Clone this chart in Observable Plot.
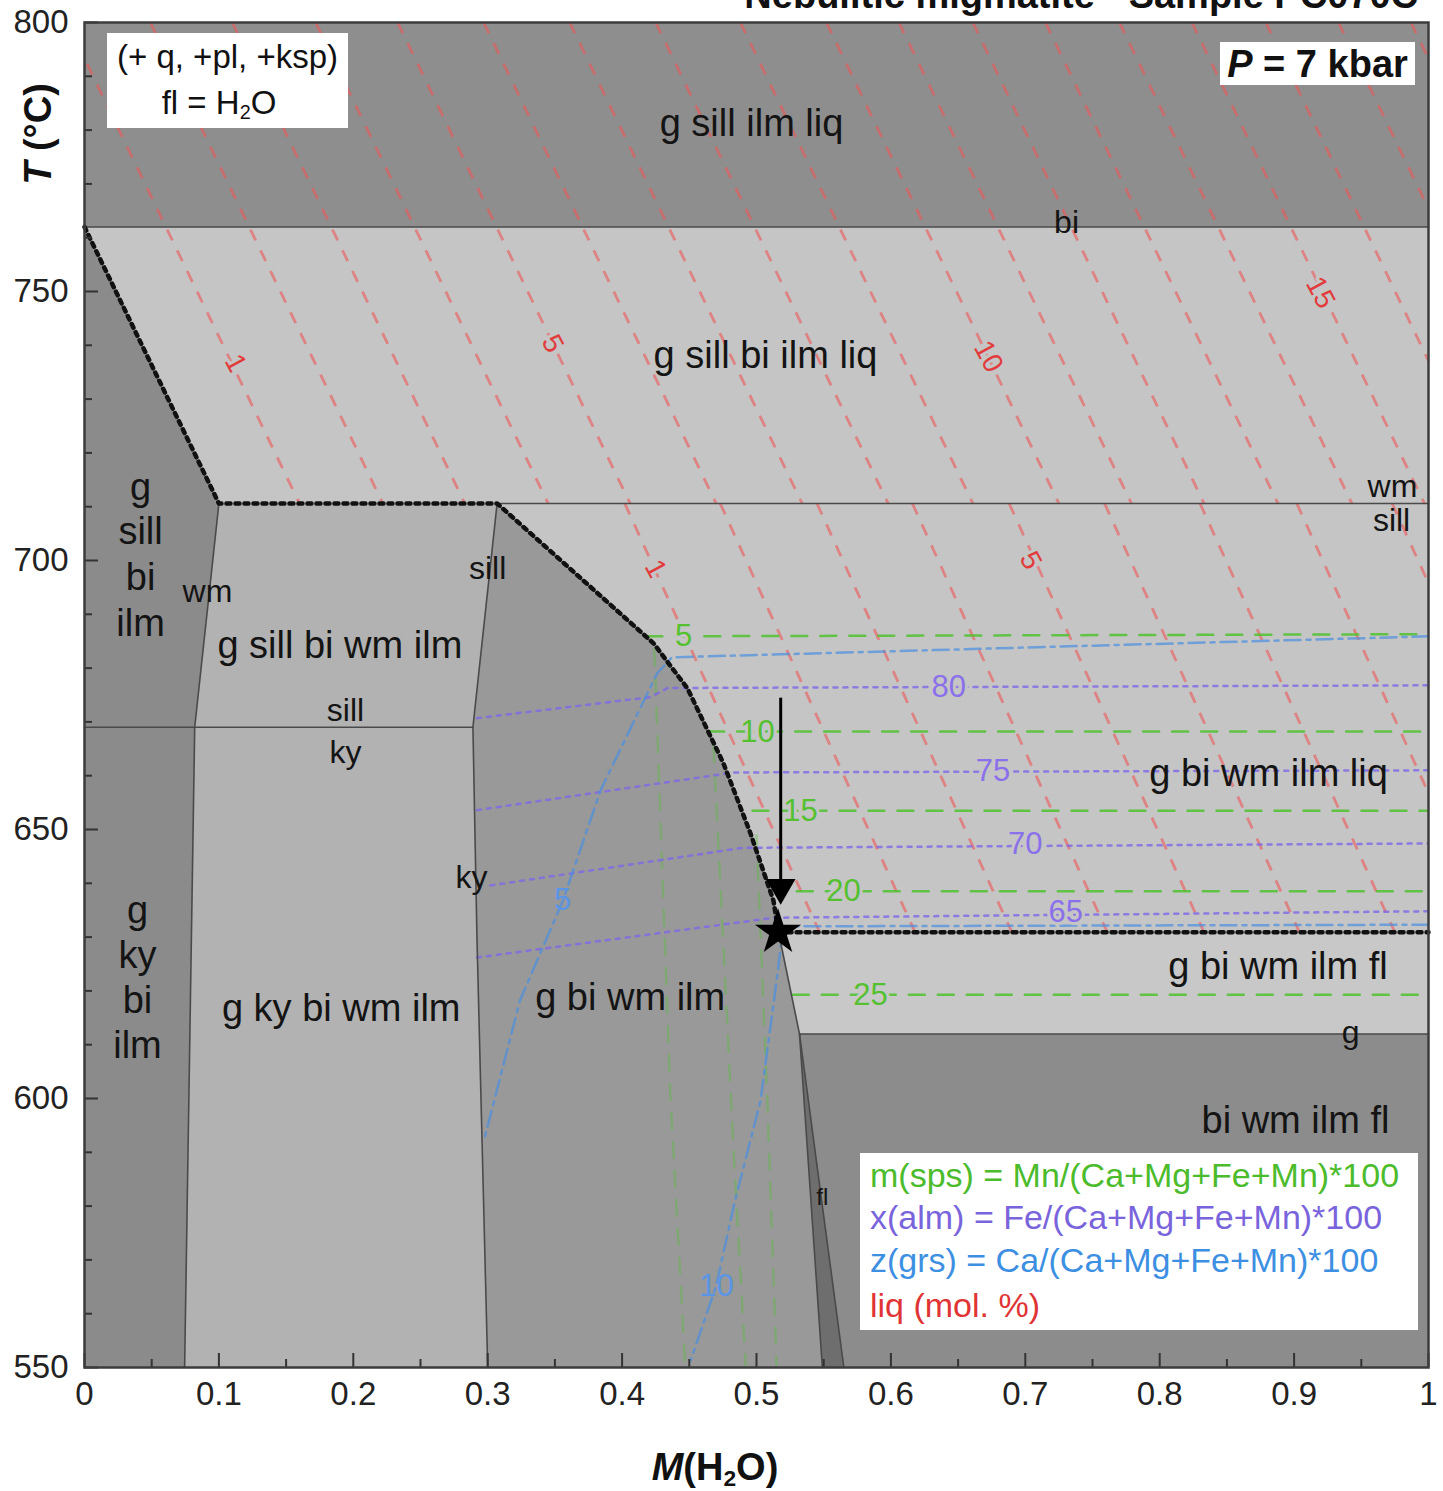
<!DOCTYPE html>
<html><head><meta charset="utf-8">
<script src="https://cdn.jsdelivr.net/npm/d3@7"></script>
<script src="https://cdn.jsdelivr.net/npm/@observablehq/plot@0.6"></script>
<style>
body{margin:0;background:#fff;font-family:"Liberation Sans",Arial,sans-serif;}
#wrap{position:relative;width:1443px;height:1491px;overflow:hidden;}
.ov{position:absolute;white-space:nowrap;color:#111;line-height:1;}
.box{position:absolute;background:#fff;}
sub{font-size:60%;vertical-align:-0.25em;line-height:0;}
</style></head><body><div id="wrap"></div>
<script>
// ---- axes ----
const xMajor = [0,0.1,0.2,0.3,0.4,0.5,0.6,0.7,0.8,0.9,1];
const xMinor = [0.05,0.15,0.25,0.35,0.45,0.55,0.65,0.75,0.85,0.95];
const yMajor = [550,600,650,700,750,800];
const yMinor = [560,570,580,590,610,620,630,640,660,670,680,690,710,720,730,740,760,770,780,790];

// ---- phase fields (M(H2O), T) ----
const regionNames = ["g sill ilm liq","g sill bi ilm liq / g bi wm ilm liq","g sill|ky bi ilm","g sill|ky bi wm ilm","g bi wm ilm","g bi wm ilm fl","fl wedge","bi wm ilm fl"];
const regionFills = ["#8e8e8e","#c5c5c5","#8b8b8b","#b2b2b2","#999999","#c8c8c8","#6e6e6e","#8c8c8c"];
const solidusRight = [[0.307,710.6],[0.4234,684.6],[0.4487,676.2],[0.4754,662.3],[0.4955,649.3],[0.5126,636.8],[0.5164,630.9]];
const regionPolygons = [
  [[0,800],[1,800],[1,762],[0,762]],
  [[0,762],[1,762],[1,630.9],[0.5164,630.9],[0.5126,636.8],[0.4955,649.3],[0.4754,662.3],[0.4487,676.2],[0.4234,684.6],[0.307,710.6],[0.1,710.6]],
  [[0,762],[0.1,710.6],[0.082,669],[0.0745,550],[0,550]],
  [[0.1,710.6],[0.307,710.6],[0.289,669],[0.292,630],[0.3,550],[0.0745,550],[0.082,669]],
  [[0.307,710.6],[0.4234,684.6],[0.4487,676.2],[0.4754,662.3],[0.4955,649.3],[0.5126,636.8],[0.5164,630.9],[0.532,612],[0.549,550],[0.3,550],[0.292,630],[0.289,669]],
  [[0.5164,630.9],[1,630.9],[1,612],[0.532,612]],
  [[0.532,612],[0.565,550],[0.549,550]],
  [[0.532,612],[1,612],[1,550],[0.565,550]]
];
const solidBoundaries = [
  [[0,762],[1,762]],
  [[0.307,710.6],[1,710.6]],
  [[0,669],[0.289,669]],
  [[0.1,710.6],[0.082,669],[0.0745,550]],
  [[0.307,710.6],[0.289,669],[0.292,630],[0.3,550]],
  [[0.5164,630.9],[0.532,612],[0.549,550]],
  [[0.532,612],[0.565,550]],
  [[0.532,612],[1,612]]
];
const dottedBoundaries = [
  [[0,762],[0.1,710.6],[0.307,710.6],...solidusRight],
  [[0.5164,630.9],[1,630.9]]
];

// ---- liq (mol.%) isopleths ----
const liqUpperValues = [1,2,3,4,5,6,7,8,9,10,11,12,13,14,15,16,17,18];
const liqUpperM800 = [-0.013,0.049,0.110,0.172,0.233,0.297,0.361,0.425,0.488,0.552,0.606,0.661,0.715,0.770,0.824,0.879,0.933,0.987];
const liqUpperM711 = [0.160,0.222,0.283,0.345,0.406,0.470,0.534,0.598,0.661,0.725,0.779,0.833,0.888,0.943,0.997,1.051,1.106,1.160];
const liqLowerValues = [1,2,3,4,5,6,7,8,9];
const liqLowerM711 = [0.402,0.473,0.545,0.616,0.688,0.759,0.830,0.902,0.973];
const liqLowerM631 = [0.547,0.618,0.690,0.761,0.833,0.904,0.975,1.047,1.118];
const liqLabelText = ["1","5","10","15","1","5"];
const liqLabelM = [0.1124,0.3482,0.6726,0.9196,0.4249,0.7039];
const liqLabelT = [736.7,740.3,737.9,749.8,698.5,700.0];

// ---- m(sps) isopleths ----
const spsLabelText = ["5","10","15","20","25"];
const spsLines = [
  [[0.418,685.9],[1,686.3]],
  [[0.464,668.2],[1,668.2]],
  [[0.497,653.5],[1,653.5]],
  [[0.530,638.5],[1,638.5]],
  [[0.527,619.3],[1,619.3]],
  [[0.424,683.5],[0.436,600],[0.447,550]],
  [[0.468,665.5],[0.483,590],[0.492,550]],
  [[0.500,649],[0.508,600],[0.515,550]]
];
const spsLabelM = [0.4457,0.5007,0.5327,0.5647,0.5848];
const spsLabelT = [685.9,668.2,653.5,638.5,619.3];

// ---- x(alm) isopleths ----
const almLabelText = ["80","75","70","65"];
const almLines = [
  [[0.292,670.7],[0.421,674.6],[0.434,676.3],[1,676.8]],
  [[0.292,653.6],[0.483,660.6],[1,661.0]],
  [[0.302,639.6],[0.490,646.6],[1,647.4]],
  [[0.292,626.2],[0.513,633.6],[1,634.8]]
];
const almLabelM = [0.643,0.676,0.700,0.730];
const almLabelT = [676.5,660.8,647.3,634.6];

// ---- z(grs) isopleths ----
const grsLabelText = ["5","10"];
const grsLines = [
  [[1,685.9],[0.437,682.0],[0.426,679.0],[0.384,657.3],[0.356,636.8],[0.324,618.2],[0.297,592]],
  [[1,632.3],[0.52,632.0],[0.514,620.1],[0.503,599.6],[0.484,581.0],[0.470,565.2],[0.451,551.3]]
];
const grsLabelM = [0.3557,0.4702];
const grsLabelT = [636.8,565.2];

// ---- field labels ----
const fieldText = ["g sill ilm liq","g sill bi ilm liq","g bi wm ilm liq","g bi wm ilm fl","bi wm ilm fl","g bi wm ilm","g ky bi wm ilm","g sill bi wm ilm",
  "g","sill","bi","ilm","g","ky","bi","ilm"];
const fieldM = [0.4963,0.5067,0.881,0.888,0.901,0.406,0.191,0.190, 0.0417,0.0417,0.0417,0.0417,0.0394,0.0394,0.0394,0.0394];
const fieldT = [781.2,738.1,660.4,624.5,595.9,618.8,616.7,684.2, 713.6,705.4,696.8,688.3,634.9,626.6,618.2,609.7];
const lineText = ["bi","wm","sill","wm","sill","sill","ky","ky","g"];
const lineM = [0.7307,0.9732,0.9725,0.0915,0.2999,0.1942,0.1942,0.288,0.942];
const lineT = [762.8,713.8,707.4,694.2,698.5,672.1,664.3,641.1,612.3];

// ---- path and sample ----
const arrowM = 0.518, arrowT1 = 674.5, arrowT2 = 640.5, arrowHeadT = 639.2;
const starM = 0.516, starT = 630.9;

const pts = p => p.map(([m,t]) => ({m,t}));
const recs = (a) => a.map((d,i)=>i);

const red = "#ef5656", green = "#4fc22e", purple = "#8066e6", blue = "#4a8fe0";
const marks = [];
regionPolygons.forEach((p,i) => marks.push(Plot.line(pts(p), {x:"m", y:"t", fill: regionFills[i], stroke: "none"})));

// liq isopleths
marks.push(Plot.link(recs(liqUpperValues), {x1: i=>liqUpperM800[i], y1: ()=>800, x2: i=>liqUpperM711[i], y2: ()=>710.6,
  stroke: red, strokeOpacity: 0.6, strokeWidth: 2.8, strokeDasharray: "12,11", clip: true}));
marks.push(Plot.link(recs(liqLowerValues), {x1: i=>liqLowerM711[i], y1: ()=>710.6, x2: i=>liqLowerM631[i], y2: ()=>630.9,
  stroke: red, strokeOpacity: 0.6, strokeWidth: 2.8, strokeDasharray: "12,11", clip: true}));
// sps
spsLines.forEach((l,i) => marks.push(Plot.line(pts(l), {x:"m", y:"t", stroke: green, strokeWidth: 2.5,
  strokeOpacity: i < 5 ? 0.85 : 0.35, strokeDasharray: "16,13", clip: true})));
// alm
almLines.forEach(l => marks.push(Plot.line(pts(l), {x:"m", y:"t", stroke: purple, strokeWidth: 2.5, strokeOpacity: 0.8, strokeDasharray: "4,6", clip: true})));
// grs
grsLines.forEach(l => marks.push(Plot.line(pts(l), {x:"m", y:"t", stroke: blue, strokeWidth: 2.5, strokeOpacity: 0.7, strokeDasharray: "16,6,4,6", clip: true})));

// boundaries
solidBoundaries.forEach(l => marks.push(Plot.line(pts(l), {x:"m", y:"t", stroke: "#4a4a4a", strokeWidth: 1.6})));
dottedBoundaries.forEach(l => marks.push(Plot.line(pts(l), {x:"m", y:"t", stroke: "#111", strokeWidth: 4.5, strokeDasharray: "4,5"})));

// isopleth labels
marks.push(Plot.text(recs(liqLabelText), {x: i=>liqLabelM[i], y: i=>liqLabelT[i], text: i=>liqLabelText[i], rotate: 62,
  fill: "#e23b3b", fontSize: 28, stroke: "#c5c5c5", strokeWidth: 6}));
marks.push(Plot.text(recs(spsLabelText), {x: i=>spsLabelM[i], y: i=>spsLabelT[i], text: i=>spsLabelText[i],
  fill: "#55c030", fontSize: 31, stroke: i=> i===4 ? "#c8c8c8" : "#c5c5c5", strokeWidth: 6}));
marks.push(Plot.text(recs(almLabelText), {x: i=>almLabelM[i], y: i=>almLabelT[i], text: i=>almLabelText[i],
  fill: "#8a70ea", fontSize: 31, stroke: "#c5c5c5", strokeWidth: 6}));
marks.push(Plot.text(recs(grsLabelText), {x: i=>grsLabelM[i], y: i=>grsLabelT[i], text: i=>grsLabelText[i],
  fill: "#5a95e6", fontSize: 31}));

// field labels
marks.push(Plot.text(recs(fieldText), {x: i=>fieldM[i], y: i=>fieldT[i], text: i=>fieldText[i], fill: "#141414", fontSize: 38}));
marks.push(Plot.text(recs(lineText), {x: i=>lineM[i], y: i=>lineT[i], text: i=>lineText[i], fill: "#141414", fontSize: 32}));
marks.push(Plot.text(["fl"], {x: ()=>0.549, y: ()=>581.6, text: d=>d, fill: "#141414", fontSize: 24}));

// arrow and star
marks.push(Plot.link([0], {x1: ()=>arrowM, y1: ()=>arrowT1, x2: ()=>arrowM, y2: ()=>arrowT2, stroke: "#000", strokeWidth: 3}));
marks.push(Plot.dot([0], {x: ()=>arrowM, y: ()=>arrowHeadT, symbol: "triangle", r: 11, rotate: 180, fill: "#000", stroke: "none"}));
marks.push(Plot.dot([0], {x: ()=>starM, y: ()=>starT, symbol: "star", r: 14.5, fill: "#000", stroke: "none"}));

// ticks (inward)
const pxT = (1491 - 22 - 124) / 250, pxM = 1443 - 84 - 15;
marks.push(Plot.ruleX(xMajor, {x: d=>d, y1: ()=>550, y2: ()=>550 + 14/pxT, stroke: "#333", strokeWidth: 2}));
marks.push(Plot.ruleX(xMinor, {x: d=>d, y1: ()=>550, y2: ()=>550 + 8/pxT, stroke: "#333", strokeWidth: 2}));
marks.push(Plot.ruleY(yMajor, {y: d=>d, x1: ()=>0, x2: ()=>14/pxM, stroke: "#333", strokeWidth: 2}));
marks.push(Plot.ruleY(yMinor, {y: d=>d, x1: ()=>0, x2: ()=>8/pxM, stroke: "#333", strokeWidth: 2}));
marks.push(Plot.axisX({ticks: xMajor, tickSize: 0, tickPadding: 14, fontSize: 33, label: null, tickFormat: d => String(+d.toFixed(1))}));
marks.push(Plot.axisY({ticks: yMajor, tickSize: 0, tickPadding: 16, fontSize: 33, label: null}));
marks.push(Plot.frame({stroke: "#3c3c3c", strokeWidth: 2.5}));

const chart = Plot.plot({
  width: 1443, height: 1491,
  marginLeft: 84, marginRight: 15, marginTop: 22, marginBottom: 124,
  x: {domain: [0,1]},
  y: {domain: [550,800]},
  style: {fontFamily: "'Liberation Sans', Arial, sans-serif", color: "#222", background: "transparent", overflow: "visible"},
  marks
});
const wrap = document.getElementById("wrap");
wrap.appendChild(chart);

function ov(html, css, cls="ov"){ const d=document.createElement("div"); d.className=cls; d.innerHTML=html; d.style.cssText=css; wrap.appendChild(d); return d; }
// title (clipped at top as in the source image)
ov("Nebulitic migmatite - Sample PC070C", "right:25px;top:-24px;font-weight:bold;font-size:38px;");
// assemblage box
ov("", "left:107px;top:33px;width:241px;height:95px;", "box");
ov("(+ q, +pl, +ksp)", "left:107px;width:241px;text-align:center;top:40px;font-size:33px;");
ov("fl = H<sub>2</sub>O", "left:107px;width:224px;text-align:center;top:86px;font-size:33px;");
// pressure box
ov("", "left:1220px;top:42px;width:195px;height:43px;", "box");
ov("<i>P</i> = 7 kbar", "left:1220px;width:195px;text-align:center;top:45px;font-size:38px;font-weight:bold;");
// legend box
ov("", "left:860px;top:1153px;width:558px;height:177px;", "box");
ov("m(sps) = Mn/(Ca+Mg+Fe+Mn)*100", "left:870px;top:1158px;font-size:34px;color:#4cbb2c;");
ov("x(alm) = Fe/(Ca+Mg+Fe+Mn)*100", "left:870px;top:1200px;font-size:34px;color:#7a64dc;");
ov("z(grs) = Ca/(Ca+Mg+Fe+Mn)*100", "left:870px;top:1243px;font-size:34px;color:#3d8fe2;");
ov("liq (mol. %)", "left:870px;top:1288px;font-size:34px;color:#e03434;");
// axis titles
ov("<i>M</i>(H<sub>2</sub>O)", "left:715px;top:1467px;transform:translate(-50%,-50%);font-size:38px;font-weight:bold;");
ov("<i>T</i> (°C)", "left:38px;top:134px;transform:translate(-50%,-50%) rotate(-90deg);font-size:38px;font-weight:bold;");
</script></body></html>
